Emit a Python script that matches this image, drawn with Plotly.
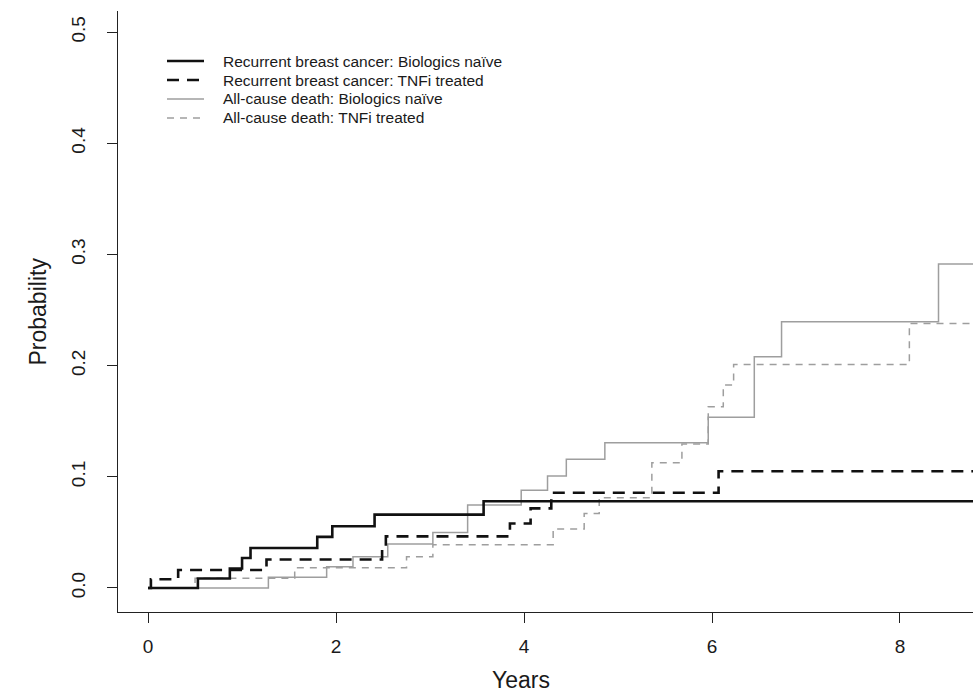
import plotly.graph_objects as go

# Cumulative incidence step functions (time in years, probability)
follow_up_end = 9.0

rbc_naive_t = [0, 0.53, 0.87, 1.00, 1.09, 1.80, 1.96, 2.41, 3.57]
rbc_naive_p = [0, 0.0085, 0.0175, 0.027, 0.036, 0.046, 0.0555, 0.066, 0.078]

rbc_tnfi_t = [0, 0.03, 0.32, 1.26, 2.49, 2.53, 3.85, 4.07, 4.29, 6.07]
rbc_tnfi_p = [0, 0.0078, 0.0162, 0.0256, 0.035, 0.0464, 0.058, 0.0716, 0.0857, 0.105]

death_naive_t = [0, 1.28, 1.90, 2.18, 2.55, 3.03, 3.40, 3.97, 4.25, 4.45, 4.86,
                 5.96, 6.45, 6.74, 8.41]
death_naive_p = [0, 0.0096, 0.019, 0.028, 0.0395, 0.050, 0.0746, 0.088, 0.1007,
                 0.1157, 0.1307, 0.1535, 0.208, 0.2395, 0.2914]

death_tnfi_t = [0, 0.50, 1.56, 2.75, 3.03, 4.31, 4.64, 4.80, 5.36, 5.68, 5.96,
                6.12, 6.23, 8.10]
death_tnfi_p = [0, 0.0087, 0.0182, 0.028, 0.039, 0.053, 0.067, 0.0812, 0.1127,
                0.1295, 0.163, 0.1826, 0.201, 0.238]

series_names = [
    "Recurrent breast cancer: Biologics naïve",
    "Recurrent breast cancer: TNFi treated",
    "All-cause death: Biologics naïve",
    "All-cause death: TNFi treated",
]

x_ticks = [0, 2, 4, 6, 8]
y_ticks = [0.0, 0.1, 0.2, 0.3, 0.4, 0.5]
y_tick_text = ["0.0", "0.1", "0.2", "0.3", "0.4", "0.5"]

FONT = "Liberation Sans, Arial, Helvetica, sans-serif"
INK = "#1a1a1a"
GREY = "#9e9e9e"
styles = [
    dict(color="#111111", width=2.6, dash="solid"),
    dict(color="#111111", width=2.6, dash="12px,8px"),
    dict(color=GREY, width=1.5, dash="solid"),
    dict(color=GREY, width=1.5, dash="7px,6px"),
]

curves = [
    (rbc_naive_t, rbc_naive_p),
    (rbc_tnfi_t, rbc_tnfi_p),
    (death_naive_t, death_naive_p),
    (death_tnfi_t, death_tnfi_p),
]

W, H = 973, 695
ML, MR, MT, MB = 118, 0, 11, 83

fig = go.Figure()
# grey curves first so the black ones sit on top
for idx in [3, 2, 1, 0]:
    t, p = curves[idx]
    fig.add_trace(go.Scatter(
        x=list(t) + [follow_up_end],
        y=list(p) + [p[-1]],
        mode="lines",
        line=dict(shape="hv", **styles[idx]),
        name=series_names[idx],
        showlegend=False,
        hoverinfo="skip",
    ))

plot_w = W - ML - MR
plot_h = H - MT - MB


def px_to_paper_x(px):
    return (px - ML) / plot_w


def px_to_paper_y(py):
    return (H - MB - py) / plot_h


# key in the top-left corner
legend_rows = [61, 80, 99, 118]
for name, st, row in zip(series_names, styles, legend_rows):
    fig.add_shape(
        type="line", xref="paper", yref="paper",
        x0=px_to_paper_x(167), x1=px_to_paper_x(204),
        y0=px_to_paper_y(row), y1=px_to_paper_y(row),
        line=dict(color=st["color"], width=st["width"], dash=st["dash"]),
    )
    fig.add_annotation(
        xref="paper", yref="paper",
        x=px_to_paper_x(221), y=px_to_paper_y(row),
        xanchor="left", yanchor="middle",
        text=name, showarrow=False,
        font=dict(family=FONT, size=15.5, color=INK),
    )

# axis titles
fig.add_annotation(
    xref="paper", yref="paper",
    x=px_to_paper_x(521), y=px_to_paper_y(680),
    xanchor="center", yanchor="middle",
    text="Years", showarrow=False,
    font=dict(family=FONT, size=23, color=INK),
)
fig.add_annotation(
    xref="paper", yref="paper",
    x=px_to_paper_x(37), y=0.5,
    xanchor="center", yanchor="middle", textangle=-90,
    text="Probability", showarrow=False,
    font=dict(family=FONT, size=23, color=INK),
)

fig.update_layout(
    width=W, height=H,
    margin=dict(l=ML, r=MR, t=MT, b=MB, pad=0),
    paper_bgcolor="white", plot_bgcolor="white",
    showlegend=False,
    font=dict(family=FONT, color=INK),
)

fig.update_xaxes(
    range=[-0.32, 8.777],
    tickvals=x_ticks,
    ticks="outside", ticklen=10, tickwidth=1, tickcolor="#222",
    showline=True, linecolor="#222", linewidth=1,
    showgrid=False, zeroline=False,
    tickfont=dict(size=19, family=FONT, color=INK),
    ticklabelstandoff=7,
)

fig.update_yaxes(
    range=[-0.0216, 0.519],
    tickvals=y_ticks, ticktext=y_tick_text,
    tickangle=-90,
    ticks="outside", ticklen=10, tickwidth=1, tickcolor="#222",
    showline=True, linecolor="#222", linewidth=1,
    showgrid=False, zeroline=False,
    tickfont=dict(size=19, family=FONT, color=INK),
    ticklabelstandoff=14,
)

fig.write_html("out.html")
